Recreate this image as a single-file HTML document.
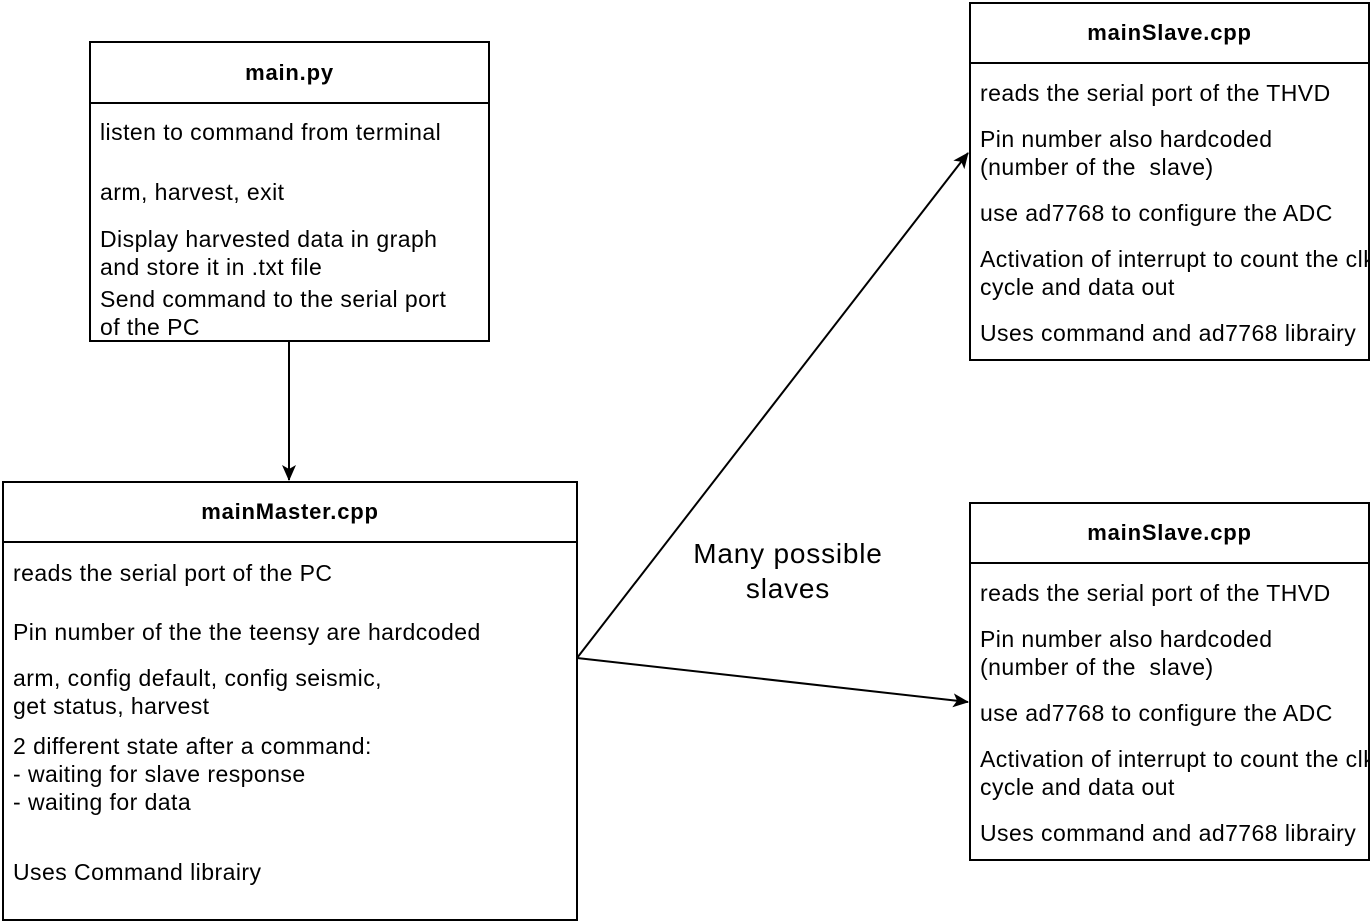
<!DOCTYPE html>
<html><head><meta charset="utf-8"><style>
body{margin:0;width:1370px;height:922px;background:#fff;position:relative;overflow:hidden;font-family:"Liberation Sans",Arial,sans-serif;color:#000}
.box{position:absolute;border:2px solid #000;box-sizing:border-box;background:#fff;overflow:hidden}
.hd{position:absolute;left:0;right:0;border-bottom:2px solid #000;font-weight:bold;font-size:22px;letter-spacing:0.8px;text-align:center}
.t{position:absolute;font-size:23px;letter-spacing:0.45px;line-height:28px;white-space:nowrap}
</style></head><body>
<svg width="1370" height="922" style="position:absolute;left:0;top:0">
<defs><marker id="a" markerWidth="16" markerHeight="14" refX="15" refY="7" orient="auto" markerUnits="userSpaceOnUse" viewBox="0 0 16 14"><path d="M0,0 L16,7 L0,14 L4,7 z" fill="#000"/></marker></defs>
<g stroke="#000" stroke-width="2" fill="none">
<line x1="289" y1="341" x2="289" y2="480" marker-end="url(#a)"/>
<line x1="577" y1="658" x2="968" y2="153" marker-end="url(#a)"/>
<line x1="577" y1="658" x2="968" y2="702" marker-end="url(#a)"/>
</g></svg>

<div class="box" style="left:89px;top:41px;width:401px;height:301px">
<div class="hd" style="top:0;height:59px;line-height:59px">main.py</div>
<div class="t" style="left:9px;top:75px">listen to command from terminal</div>
<div class="t" style="left:9px;top:135px">arm, harvest, exit</div>
<div class="t" style="left:9px;top:182px">Display harvested data in graph<br>and store it in .txt file</div>
<div class="t" style="left:9px;top:242px">Send command to the serial port<br>of the PC</div>
</div>

<div class="box" style="left:2px;top:481px;width:576px;height:440px">
<div class="hd" style="top:0;height:58px;line-height:58px">mainMaster.cpp</div>
<div class="t" style="left:9px;top:76px">reads the serial port of the PC</div>
<div class="t" style="left:9px;top:135px">Pin number of the the teensy are hardcoded</div>
<div class="t" style="left:9px;top:181px">arm, config default, config seismic,<br>get status, harvest</div>
<div class="t" style="left:9px;top:249px">2 different state after a command:<br>- waiting for slave response<br>- waiting for data</div>
<div class="t" style="left:9px;top:375px">Uses Command librairy</div>
</div>

<div class="box" style="left:969px;top:2px;width:401px;height:359px">
<div class="hd" style="top:0;height:58px;line-height:58px">mainSlave.cpp</div>
<div class="t" style="left:9px;top:75px">reads the serial port of the THVD</div>
<div class="t" style="left:9px;top:121px">Pin number also hardcoded<br>(number of the&nbsp; slave)</div>
<div class="t" style="left:9px;top:195px">use ad7768 to configure the ADC</div>
<div class="t" style="left:9px;top:241px">Activation of interrupt to count the clk<br>cycle and data out</div>
<div class="t" style="left:9px;top:315px">Uses command and ad7768 librairy</div>
</div>

<div class="box" style="left:969px;top:502px;width:401px;height:359px">
<div class="hd" style="top:0;height:58px;line-height:58px">mainSlave.cpp</div>
<div class="t" style="left:9px;top:75px">reads the serial port of the THVD</div>
<div class="t" style="left:9px;top:121px">Pin number also hardcoded<br>(number of the&nbsp; slave)</div>
<div class="t" style="left:9px;top:195px">use ad7768 to configure the ADC</div>
<div class="t" style="left:9px;top:241px">Activation of interrupt to count the clk<br>cycle and data out</div>
<div class="t" style="left:9px;top:315px">Uses command and ad7768 librairy</div>
</div>

<div style="position:absolute;left:638px;top:536px;width:300px;text-align:center;font-size:28px;letter-spacing:0.8px;line-height:35px">Many possible<br>slaves</div>
</body></html>
